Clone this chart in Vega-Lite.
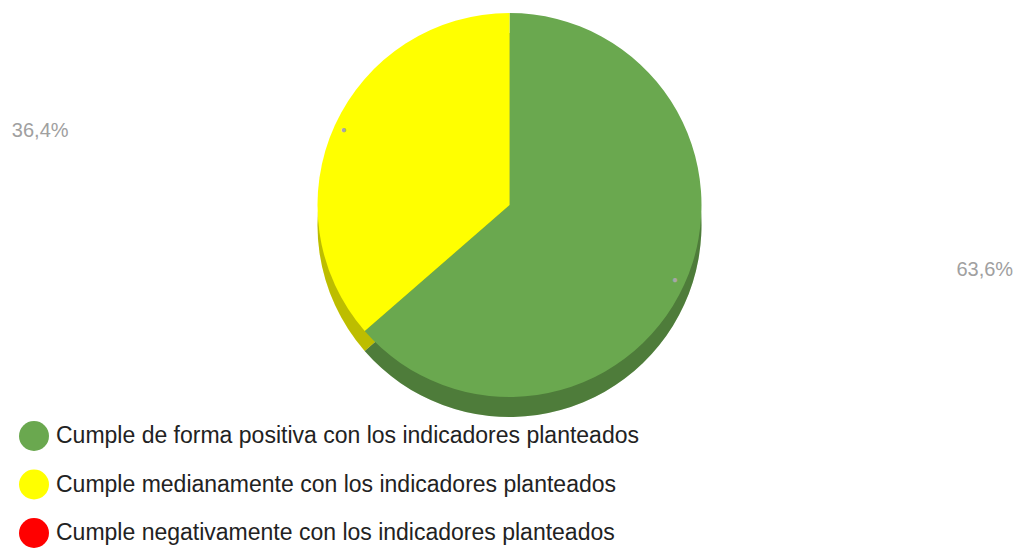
{
  "$schema": "https://vega.github.io/schema/vega-lite/v6.json",
  "width": 1019,
  "height": 410,
  "autosize": {"type": "none"},
  "padding": {"left": 0, "top": 0, "right": 0, "bottom": 139},
  "background": "white",
  "config": {
    "view": {"stroke": null},
    "font": "Liberation Sans",
    "legend": {
      "orient": "none",
      "legendX": 19,
      "legendY": 421,
      "title": null,
      "symbolType": "circle",
      "symbolSize": 900,
      "symbolStrokeWidth": 0,
      "symbolOpacity": 1,
      "labelFontSize": 23,
      "labelColor": "#222222",
      "labelLimit": 900,
      "labelOffset": 7,
      "rowPadding": 18.5,
      "padding": 0
    }
  },
  "data": {
    "values": [
      {"categoria": "Cumple de forma positiva con los indicadores planteados", "valor": 63.6, "etiqueta": "63,6%", "orden": 1},
      {"categoria": "Cumple medianamente con los indicadores planteados", "valor": 36.4, "etiqueta": "36,4%", "orden": 2},
      {"categoria": "Cumple negativamente con los indicadores planteados", "valor": 0, "etiqueta": "0%", "orden": 3}
    ]
  },
  "encoding": {
    "theta": {"field": "valor", "type": "quantitative", "stack": true},
    "order": {"field": "orden", "type": "quantitative"}
  },
  "layer": [
    {
      "mark": {"type": "arc", "outerRadius": 192, "yOffset": 20},
      "encoding": {
        "color": {
          "field": "categoria",
          "type": "nominal",
          "sort": null,
          "scale": {
            "domain": [
              "Cumple de forma positiva con los indicadores planteados",
              "Cumple medianamente con los indicadores planteados",
              "Cumple negativamente con los indicadores planteados"
            ],
            "range": ["#6aa84f", "#ffff00", "#ff0000"]
          }
        }
      }
    },
    {
      "mark": {"type": "arc", "outerRadius": 192, "yOffset": 20, "fill": "black", "opacity": 0.26}
    },
    {
      "mark": {"type": "arc", "outerRadius": 192},
      "encoding": {
        "color": {"field": "categoria", "type": "nominal", "sort": null}
      }
    },
    {
      "mark": {"type": "text", "radius": 182, "fontSize": 10, "color": "#a6a6a6", "baseline": "middle", "align": "center"},
      "encoding": {
        "text": {"condition": {"test": "datum.valor > 0", "value": "●"}, "value": ""}
      }
    },
    {
      "mark": {"type": "text", "radius": 182, "align": "left", "baseline": "middle", "dx": -332, "dy": 1.5, "fontSize": 20, "color": "#a0a0a0"},
      "encoding": {
        "text": {"condition": {"test": "datum.orden == 2", "field": "etiqueta"}, "value": ""}
      }
    },
    {
      "mark": {"type": "text", "radius": 182, "align": "right", "baseline": "middle", "dx": 338, "dy": -10.5, "fontSize": 20, "color": "#a0a0a0"},
      "encoding": {
        "text": {"condition": {"test": "datum.orden == 1", "field": "etiqueta"}, "value": ""}
      }
    }
  ]
}
